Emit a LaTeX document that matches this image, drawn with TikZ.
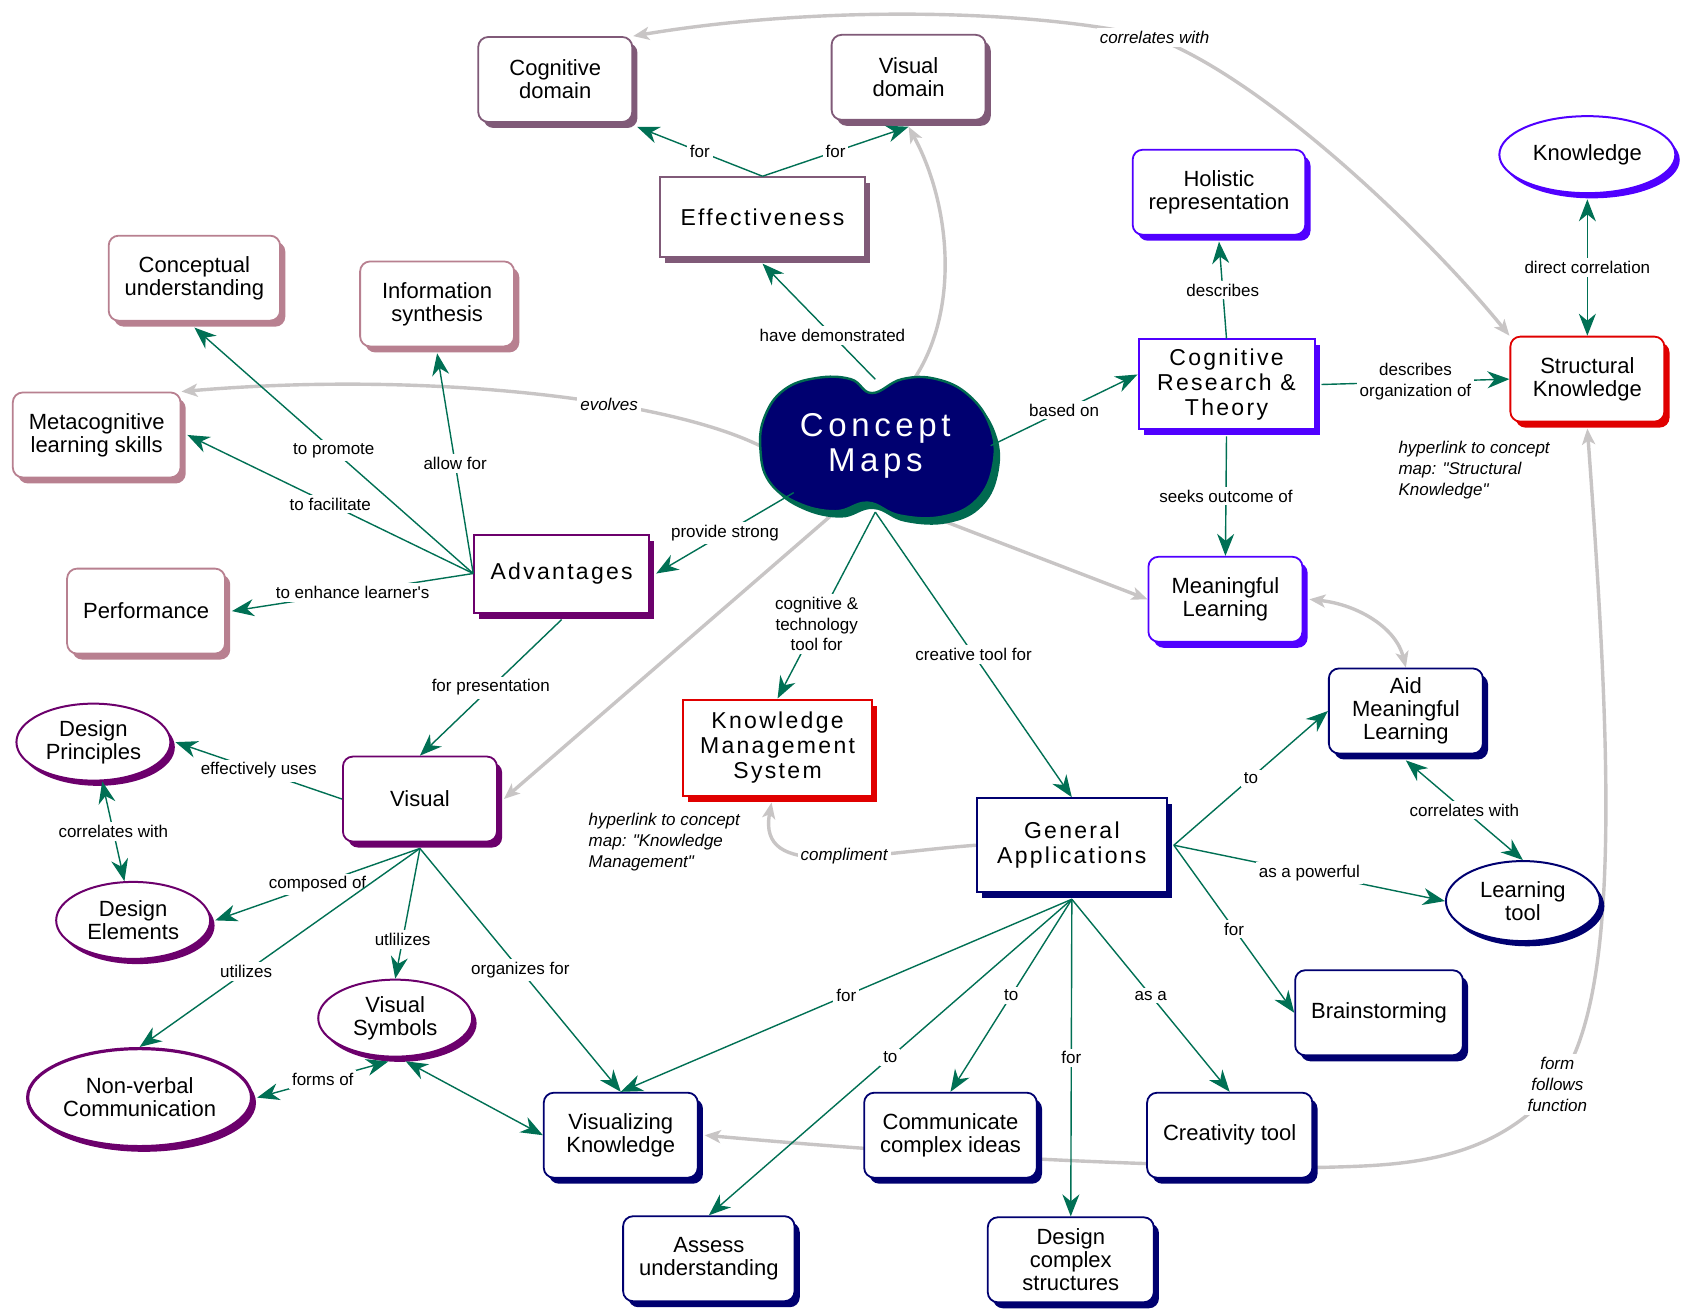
\documentclass[tikz,border=0pt]{standalone}
\usepackage{fontspec}
\setmainfont{Liberation Sans}
\newfontfamily\widefont[LetterSpace=10]{Liberation Sans}
\newfontfamily\bigwidefont[LetterSpace=14]{Liberation Sans}
\usetikzlibrary{arrows.meta,shapes.geometric,shadows}

\definecolor{lgreen}{RGB}{0,112,84}
\definecolor{lgray}{RGB}{200,197,197}
\definecolor{cmauve}{RGB}{128,90,120}
\definecolor{cpink}{RGB}{184,128,144}
\definecolor{cpurple}{RGB}{108,0,108}
\definecolor{cviolet}{RGB}{80,0,255}
\definecolor{cred}{RGB}{224,0,0}
\definecolor{cnavy}{RGB}{0,0,112}
\definecolor{cloudgreen}{RGB}{0,106,80}

\pgfdeclarelayer{bg}
\pgfsetlayers{bg,main}

\tikzset{
  rbox/.style={draw=#1, line width=.9pt, fill=white, rounded corners=5pt,
    minimum width=77pt, minimum height=42.5pt, inner xsep=8pt, align=center,
    font=\fontsize{11}{11.5}\selectfont,
    drop shadow={shadow xshift=2.6pt,shadow yshift=-3pt,fill=#1,opacity=1}},
  sbox/.style={draw=#1, line width=1pt, fill=white, inner sep=0pt, align=center,
    font=\widefont\fontsize{11.5}{12.6}\selectfont,
    drop shadow={shadow xshift=2.6pt,shadow yshift=-3pt,fill=#1,opacity=1}},
  ebox/.style={ellipse, draw=#1, line width=1pt, fill=white, inner sep=0pt,
    minimum width=77pt, minimum height=38.5pt, align=center,
    font=\fontsize{11}{11.5}\selectfont,
    drop shadow={shadow xshift=2.2pt,shadow yshift=-2.6pt,fill=#1,opacity=1}},
  link/.style={draw=lgreen, line width=.7pt, >={Stealth[length=11pt,width=8.5pt,inset=3.5pt]}, ->},
  glink/.style={draw=lgray, line width=1.7pt, >={Stealth[length=8pt,width=6.5pt,inset=2pt]}, ->},
  ltxt/.style={fill=white, inner sep=1.5pt, align=center, font=\fontsize{8.5}{10.3}\selectfont},
  itxt/.style={ltxt, font=\itshape\fontsize{8.5}{10.5}\selectfont}
}

\begin{document}
\begin{tikzpicture}[x=0.537pt, y=-0.537pt]
\useasboundingbox (0,0) rectangle (1568,1221);
\begin{pgfonlayer}{bg}
\fill[white] (0,0) rectangle (1568,1221);
\end{pgfonlayer}

% the cloud
\fill[cloudgreen, shift={(5,6)}] plot[smooth cycle, tension=.7] coordinates {(812,366) (792,353) (760,352) (730,363) (712,388) (708,418) (716,448) (742,468) (778,476) (808,468) (838,480) (878,481) (910,465) (925,432) (922,397) (902,368) (872,353) (840,353)};
\filldraw[fill=cnavy, draw=cloudgreen, line width=1.2pt] plot[smooth cycle, tension=.7] coordinates {(812,366) (792,353) (760,352) (730,363) (712,388) (708,418) (716,448) (742,468) (778,476) (808,468) (838,480) (878,481) (910,465) (925,432) (922,397) (902,368) (872,353) (840,353)};
\node[ellipse, minimum width=115pt, minimum height=66pt, inner sep=0pt, text=white, align=center,
  font=\bigwidefont\fontsize{16.5}{17.5}\selectfont] (cmap) at (815,415) {Concept\\Maps};

% concepts
\node[rbox=cmauve] (cogdom) at (517,74) {Cognitive\\domain};
\node[rbox=cmauve] (visdom) at (846,72) {Visual\\domain};
\node[sbox=cmauve, minimum width=102.6pt, minimum height=39.7pt] (effect) at (710,202) {Effectiveness};
\node[rbox=cviolet] (holistic) at (1135,179) {Holistic\\representation};
\node[ebox=cviolet, minimum width=88pt] (know) at (1478,144) {Knowledge};
\node[rbox=cpink] (concept) at (181,259) {Conceptual\\understanding};
\node[rbox=cpink] (infosyn) at (407,283) {Information\\synthesis};
\node[rbox=cpink] (meta) at (90,405) {Metacognitive\\learning skills};
\node[sbox=cviolet, minimum width=88pt, minimum height=45pt] (crt) at (1142,358) {Cognitive\\Research \&\\Theory};
\node[rbox=cred] (sk) at (1478,353) {Structural\\Knowledge};
\node[sbox=cpurple, minimum width=87.5pt, minimum height=39pt] (adv) at (523,534) {Advantages};
\node[rbox=cpink] (perf) at (136,569) {Performance};
\node[rbox=cviolet] (ml) at (1141,558) {Meaningful\\Learning};
\node[sbox=cred, minimum width=94.5pt, minimum height=48pt] (kms) at (724,696) {Knowledge\\Management\\System};
\node[rbox=cnavy] (aml) at (1309,662) {Aid\\Meaningful\\Learning};
\node[ebox=cpurple] (dprin) at (87,691) {Design\\Principles};
\node[rbox=cpurple] (visual) at (391,744) {Visual};
\node[sbox=cnavy, minimum width=95pt, minimum height=47pt] (gen) at (998,787) {General\\Applications};
\node[ebox=cpurple] (delem) at (124,857) {Design\\Elements};
\node[ebox=cnavy, minimum height=40pt] (ltool) at (1418,839) {Learning\\tool};
\node[ebox=cpurple] (vsym) at (368,948) {Visual\\Symbols};
\node[rbox=cnavy] (brain) at (1284,943) {Brainstorming};
\node[ebox=cpurple, line width=1.6pt, minimum width=112pt, minimum height=49pt] (nonverb) at (130,1022) {Non-verbal\\Communication};
\node[rbox=cnavy] (vk) at (578,1057) {Visualizing\\Knowledge};
\node[rbox=cnavy] (cci) at (885,1057) {Communicate\\complex ideas};
\node[rbox=cnavy] (ctool) at (1145,1057) {Creativity tool};
\node[rbox=cnavy] (assess) at (660,1172) {Assess\\understanding};
\node[rbox=cnavy, minimum width=83pt] (dcs) at (997,1173) {Design\\complex\\structures};

% hyperlinks
\node[itxt, fill=none, anchor=north west, align=left] (hlsk) at (1299,408) {hyperlink to concept\\map: \textquotedbl Structural\\Knowledge\textquotedbl};
\node[itxt, fill=none, anchor=north west, align=left] (hlkms) at (545,754) {hyperlink to concept\\map: \textquotedbl Knowledge\\Management\textquotedbl};

% gray cross links
\begin{pgfonlayer}{bg}
\draw[glink,<->] (cogdom.north east) .. controls (760,5) and (960,8) .. (1075,35) .. controls (1180,75) and (1330,220) .. (sk.north west);
\node[itxt] at (1075,35) {correlates with};
\draw[glink] (cmap.60) .. controls (895,290) and (885,190) .. ([yshift=-3pt]visdom.south);
\draw[glink] (cmap.west) .. controls (620,372) and (400,345) .. (meta.north east) node[itxt, pos=.36] {evolves};
\draw[glink] (cmap.240) -- ([xshift=3pt]visual.east);
\draw[glink] (cmap.300) -- (ml.west);
\draw[glink,<->] ([xshift=3pt]ml.east) .. controls (1265,563) and (1300,585) .. (aml.north);
\draw[glink] (gen.west) .. controls (800,795) and (705,820) .. ([xshift=-3pt,yshift=-3pt]kms.south) node[itxt, pos=.42] {compliment};
\draw[glink,<->] ([yshift=-3pt]sk.south) .. controls (1500,700) and (1510,930) .. (1450,1010) .. controls (1390,1085) and (1300,1085) .. (1230,1087) .. controls (1000,1085) and (800,1070) .. ([xshift=3pt]vk.east);
\node[itxt] at (1450,1010) {form\\follows\\function};
\end{pgfonlayer}

% links
\draw[link] (cmap.north) -- node[ltxt, pos=.38]{have demonstrated} ([yshift=-3pt]effect.south);
\draw[link] (effect.north) -- node[ltxt]{for} ([xshift=2pt,yshift=-2pt]cogdom.south east);
\draw[link] (effect.north) -- node[ltxt]{for} ([yshift=-3pt]visdom.south);
\draw[link] (cmap.east) -- node[ltxt]{based on} ([yshift=5pt]crt.west);
\draw[link] (crt.north) -- node[ltxt]{describes} ([yshift=-3pt]holistic.south);
\draw[link] ([yshift=-3pt]crt.south) -- node[ltxt]{seeks outcome of} (ml.north);
\draw[link] ([xshift=3pt]crt.east) -- node[ltxt]{describes\\organization of} (sk.west);
\draw[link,<->] ([yshift=-2.6pt]know.south) -- node[ltxt]{direct correlation} (sk.north);
\draw[link] (cmap.south west) -- node[ltxt]{provide strong} ([xshift=3pt]adv.east);
\draw[link] (adv.west) -- node[ltxt]{to promote} ([yshift=-3pt]concept.south);
\draw[link] (adv.west) -- node[ltxt]{allow for} ([yshift=-3pt]infosyn.south);
\draw[link] (adv.west) -- node[ltxt]{to facilitate} ([xshift=3pt]meta.east);
\draw[link] (adv.west) -- node[ltxt]{to enhance learner\textquotesingle s} ([xshift=3pt]perf.east);
\draw[link] ([yshift=-3pt]adv.south) -- node[ltxt]{for presentation} (visual.north);
\draw[link] (visual.west) -- node[ltxt]{effectively uses} ([xshift=2pt]dprin.east);
\draw[link,<->] (dprin) -- node[ltxt]{correlates with} (delem);
\draw[link] ([yshift=-3pt]visual.south) -- node[ltxt]{composed of} ([xshift=2pt]delem.east);
\draw[link] ([yshift=-3pt]visual.south) -- node[ltxt, pos=.62]{utilizes} (nonverb.north);
\draw[link] ([yshift=-3pt]visual.south) -- node[ltxt, pos=.7]{utlilizes} (vsym.north);
\draw[link] ([yshift=-3pt]visual.south) -- node[ltxt]{organizes for} (vk.north);
\draw[link,<->] ([xshift=2pt]nonverb.east) -- node[ltxt]{forms of} ([yshift=-2pt]vsym.-100);
\draw[link,<->] ([yshift=-2pt]vsym.-75) -- (vk.west);
\draw[link] (cmap.south) -- node[ltxt, pos=.6]{cognitive \&\\technology\\tool for} (kms.north);
\draw[link] (cmap.south) -- node[ltxt]{creative tool for} (gen.north);
\draw[link] ([xshift=3pt]gen.east) -- node[ltxt]{to} (aml.west);
\draw[link] ([xshift=3pt]gen.east) -- node[ltxt]{as a powerful} (ltool.west);
\draw[link] ([xshift=3pt]gen.east) -- node[ltxt]{for} (brain.west);
\draw[link,<->] ([yshift=-3pt]aml.south) -- node[ltxt]{correlates with} (ltool.north);
\draw[link] ([yshift=-3pt]gen.south) -- node[ltxt]{for} (vk.north);
\draw[link] ([yshift=-3pt]gen.south) -- node[ltxt]{to} (assess.north);
\draw[link] ([yshift=-3pt]gen.south) -- node[ltxt]{to} (cci.north);
\draw[link] ([yshift=-3pt]gen.south) -- node[ltxt]{for} (dcs.north);
\draw[link] ([yshift=-3pt]gen.south) -- node[ltxt]{as a} (ctool.north);
\end{tikzpicture}
\end{document}
